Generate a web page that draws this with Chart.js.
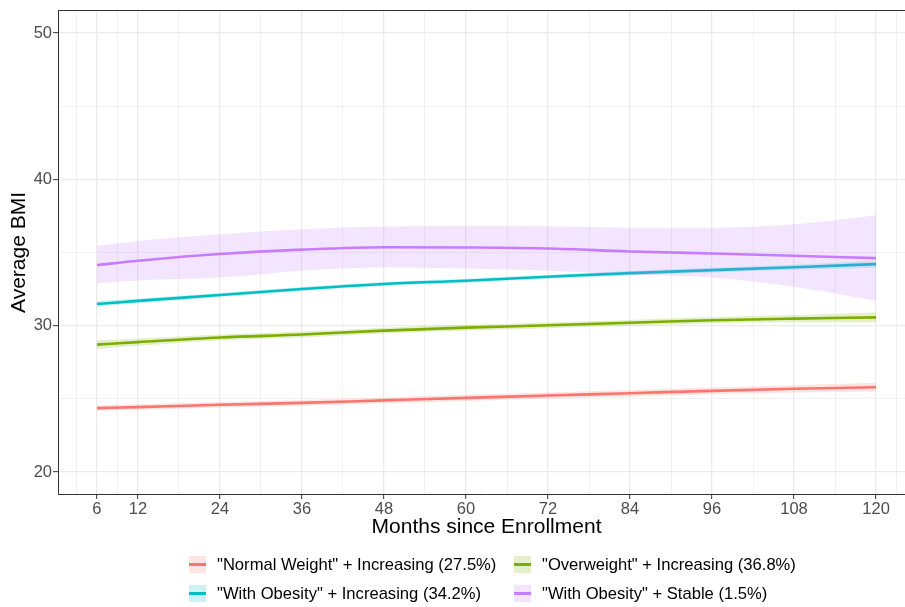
<!DOCTYPE html>
<html>
<head>
<meta charset="utf-8">
<script src="https://cdn.jsdelivr.net/npm/chart.js@4.4.1/dist/chart.umd.min.js"></script>
<style>
  html, body { margin: 0; padding: 0; background: #fff; }
  #wrap { position: relative; width: 905px; height: 607px; overflow: hidden; }
  #chart { position: absolute; left: 0; top: 0; }
  .legend-item {
    position: absolute; height: 17px; display: flex; align-items: center;
    font: 16.6px "Liberation Sans", Arial, sans-serif; color: #000; white-space: nowrap;
  }
  .key { width: 17px; height: 17px; position: relative; margin-right: 11px; }
  .key span { position: absolute; left: 0; right: 0; top: 7px; height: 3px; }
</style>
</head>
<body>
<div id="wrap">
  <canvas id="chart"></canvas>
  <div id="legend"></div>
</div>
<script>
// Months since enrollment at which the smoothed curves were read
const months = [6, 12, 24, 36, 48, 60, 72, 84, 96, 108, 120];
const xTicks = [6, 12, 24, 36, 48, 60, 72, 84, 96, 108, 120];
const xMinor = [3, 9, 18, 30, 42, 54, 66, 78, 90, 102, 114, 123];
const yTicks = [20, 30, 40, 50];
const yMinor = [25, 35, 45];

const groupNames = [
  '"Normal Weight" + Increasing (27.5%)',
  '"Overweight" + Increasing (36.8%)',
  '"With Obesity" + Increasing (34.2%)',
  '"With Obesity" + Stable (1.5%)'
];
const groupColors = ["#F8766D", "#7CAE00", "#00BFC4", "#C77CFF"];

// Fitted mean BMI
const normalFit = [24.37, 24.44, 24.6, 24.73, 24.9, 25.07, 25.23, 25.39, 25.55, 25.69, 25.8];
const overFit = [28.71, 28.88, 29.2, 29.4, 29.67, 29.87, 30.03, 30.2, 30.38, 30.49, 30.57];
const obeseIncFit = [31.49, 31.7, 32.1, 32.51, 32.85, 33.08, 33.35, 33.6, 33.8, 34.0, 34.21];
const obeseStableFit = [34.15, 34.44, 34.9, 35.2, 35.37, 35.35, 35.28, 35.08, 34.94, 34.78, 34.62];

// Confidence band limits
const normalLow = [24.17, 24.25, 24.42, 24.53, 24.7, 24.86, 25.02, 25.17, 25.32, 25.44, 25.5];
const normalHigh = [24.57, 24.63, 24.78, 24.93, 25.1, 25.28, 25.44, 25.61, 25.78, 25.94, 26.1];
const overLow = [28.41, 28.63, 29.0, 29.2, 29.47, 29.67, 29.83, 30.0, 30.17, 30.24, 30.24];
const overHigh = [29.01, 29.13, 29.4, 29.6, 29.87, 30.07, 30.23, 30.4, 30.59, 30.74, 30.9];
const obeseIncLow = [31.29, 31.53, 31.96, 32.37, 32.71, 32.94, 33.21, 33.45, 33.64, 33.82, 33.97];
const obeseIncHigh = [31.69, 31.87, 32.24, 32.65, 32.99, 33.22, 33.49, 33.75, 33.96, 34.18, 34.45];
const obeseStableLow = [32.9, 33.1, 33.3, 33.76, 33.98, 33.92, 33.76, 33.5, 33.3, 32.67, 31.71];
const obeseStableHigh = [35.46, 35.8, 36.26, 36.6, 36.78, 36.83, 36.8, 36.7, 36.7, 36.94, 37.56];

const fits = [normalFit, overFit, obeseIncFit, obeseStableFit];
const lows = [normalLow, overLow, obeseIncLow, obeseStableLow];
const highs = [normalHigh, overHigh, obeseIncHigh, obeseStableHigh];

const FONT = '"Liberation Sans", Arial, sans-serif';

function alpha(hex, a) {
  const n = parseInt(hex.slice(1), 16);
  return `rgba(${(n >> 16) & 255}, ${(n >> 8) & 255}, ${n & 255}, ${a})`;
}

function toPoints(arr) {
  return arr.map((v, i) => ({ x: months[i], y: v }));
}

// ribbon + line per group, drawn in group order (later groups on top)
const datasets = [];
let order = 100;
fits.forEach((fit, g) => {
  datasets.push({
    label: "low" + g,
    data: toPoints(lows[g]),
    borderWidth: 0,
    pointRadius: 0,
    fill: false,
    cubicInterpolationMode: "monotone",
    order: order--
  });
  datasets.push({
    label: "high" + g,
    data: toPoints(highs[g]),
    borderWidth: 0,
    pointRadius: 0,
    fill: "-1",
    backgroundColor: alpha(groupColors[g], 0.2),
    cubicInterpolationMode: "monotone",
    order: order--
  });
  datasets.push({
    label: groupNames[g],
    data: toPoints(fit),
    borderColor: groupColors[g],
    borderWidth: 2.6,
    pointRadius: 0,
    fill: false,
    cubicInterpolationMode: "monotone",
    order: order--
  });
});

const canvas = document.getElementById("chart");
canvas.width = 915;
canvas.height = 607;
canvas.style.width = "915px";
canvas.style.height = "607px";

new Chart(canvas, {
  type: "line",
  data: { datasets: datasets },
  options: {
    responsive: false,
    animation: false,
    devicePixelRatio: 1,
    layout: { padding: { top: 10, right: 0, bottom: 64, left: 0 } },
    plugins: {
      legend: { display: false },
      tooltip: { enabled: false }
    },
    scales: {
      x: {
        type: "linear",
        position: "bottom",
        min: 0.3,
        max: 125.7,
        afterBuildTicks: (s) => { s.ticks = xTicks.map((v) => ({ value: v })); },
        afterFit: (s) => { s.height = 49; },
        ticks: {
          color: "#4D4D4D",
          font: { family: FONT, size: 16.5 },
          padding: 1,
          maxRotation: 0,
          autoSkip: false
        },
        grid: { color: "#EBEBEB", lineWidth: 1.3, tickColor: "#333333", tickLength: 5, tickWidth: 1 },
        border: { color: "#333333", width: 1 },
        title: {
          display: true,
          text: "Months since Enrollment",
          color: "#000",
          font: { family: FONT, size: 21 },
          padding: { top: 0, bottom: 3.5 }
        }
      },
      xMinor: {
        type: "linear",
        position: "top",
        min: 0.3,
        max: 125.7,
        afterBuildTicks: (s) => { s.ticks = xMinor.map((v) => ({ value: v })); },
        afterFit: (s) => { s.height = 0; },
        ticks: { display: false },
        grid: { color: "#EBEBEB", lineWidth: 0.7, drawTicks: false },
        border: { color: "#333333", width: 1 }
      },
      y: {
        type: "linear",
        position: "left",
        min: 18.5,
        max: 51.52,
        afterBuildTicks: (s) => { s.ticks = yTicks.map((v) => ({ value: v })); },
        afterFit: (s) => { s.width = 58; },
        ticks: {
          color: "#4D4D4D",
          font: { family: FONT, size: 16.5 },
          padding: 1
        },
        grid: { color: "#EBEBEB", lineWidth: 1.3, tickColor: "#333333", tickLength: 5, tickWidth: 1 },
        border: { color: "#333333", width: 1 },
        title: {
          display: true,
          text: "Average BMI",
          color: "#000",
          font: { family: FONT, size: 21 },
          padding: { top: 7, bottom: 0 }
        }
      },
      yMinor: {
        type: "linear",
        position: "right",
        min: 18.5,
        max: 51.52,
        afterBuildTicks: (s) => { s.ticks = yMinor.map((v) => ({ value: v })); },
        afterFit: (s) => { s.width = 0; },
        ticks: { display: false },
        grid: { color: "#EBEBEB", lineWidth: 0.7, drawTicks: false },
        border: { display: false }
      }
    }
  }
});

// Legend (two columns, two rows, as in the figure)
const legendSlots = [
  { left: 189, top: 556 },
  { left: 514, top: 556 },
  { left: 189, top: 585 },
  { left: 514, top: 585 }
];
const legend = document.getElementById("legend");
groupNames.forEach((name, g) => {
  const item = document.createElement("div");
  item.className = "legend-item";
  item.style.left = legendSlots[g].left + "px";
  item.style.top = legendSlots[g].top + "px";
  item.innerHTML = `<div class="key" style="background:${alpha(groupColors[g], 0.2)}"><span style="background:${groupColors[g]}"></span></div>${name}`;
  legend.appendChild(item);
});
</script>
</body>
</html>
